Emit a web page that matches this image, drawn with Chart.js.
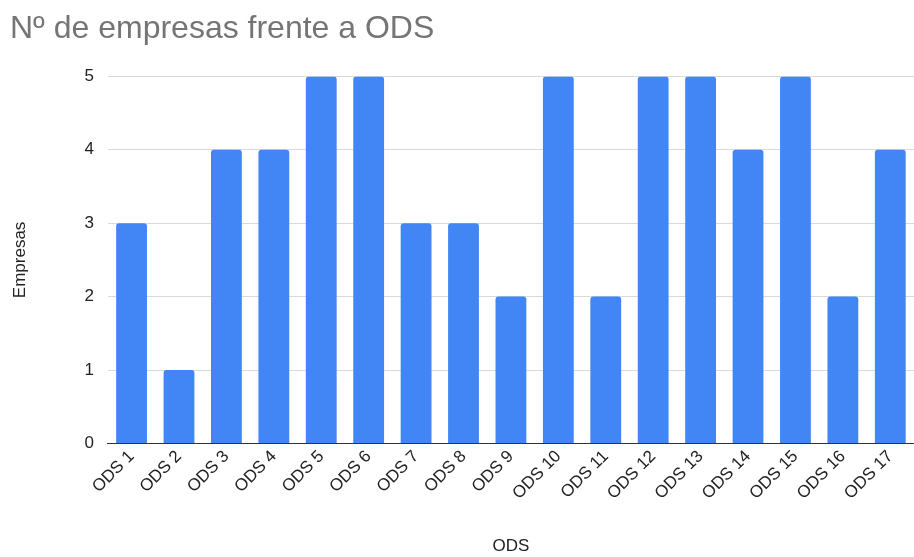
<!DOCTYPE html>
<html><head><meta charset="utf-8">
<script src="https://cdn.jsdelivr.net/npm/chart.js@4/dist/chart.umd.min.js"></script>
<style>html,body{margin:0;padding:0;background:#fff}#w{width:914px;height:557px}</style>
</head><body><div id="w"><canvas id="c"></canvas></div>
<script>
const categories = ["ODS 1","ODS 2","ODS 3","ODS 4","ODS 5","ODS 6","ODS 7","ODS 8","ODS 9","ODS 10","ODS 11","ODS 12","ODS 13","ODS 14","ODS 15","ODS 16","ODS 17"];
const empresas = [3,1,4,4,5,5,3,3,2,5,2,5,5,4,5,2,4];
const yTicks = [0,1,2,3,4,5];
const titleText = "Nº de empresas frente a ODS";
const xTitle = "ODS";
const yTitle = "Empresas";

Chart.defaults.font.family = "'Liberation Sans', Arial, sans-serif";
new Chart(document.getElementById('c'), {
  type: 'bar',
  data: { labels: categories, datasets: [{ data: empresas, backgroundColor: '#4285F4', borderRadius: {topLeft:3, topRight:3}, borderSkipped: 'bottom', categoryPercentage: 0.65, barPercentage: 1 }] },
  options: {
    responsive: true, maintainAspectRatio: false, animation: false,
    layout: { padding: { left: 10, right: 0, top: 0, bottom: 0 } },
    plugins: {
      legend: { display: false },
      tooltip: { enabled: false },
      title: { display: true, text: titleText, align: 'start', color: '#757575', font: { size: 32, weight: 'normal' }, padding: { top: 10, bottom: 28 } }
    },
    scales: {
      x: {
        grid: { display: false, drawTicks: false },
        border: { color: '#333', width: 1 },
        ticks: { color: '#222', font: { size: 17 }, maxRotation: 45, minRotation: 45, padding: 3, autoSkip: false },
        title: { display: true, text: xTitle, color: '#222', font: { size: 17 }, padding: { top: 30, bottom: 0 } }
      },
      y: {
        min: 0, max: 5,
        afterBuildTicks: (s) => { s.ticks = yTicks.map(v => ({ value: v })); },
        grid: { color: '#d9d9d9', drawTicks: false },
        border: { display: false },
        ticks: { color: '#222', font: { size: 17 }, padding: 14 },
        title: { display: true, text: yTitle, color: '#222', font: { size: 17 }, padding: { top: 0, bottom: 40 } }
      }
    }
  }
});
</script></body></html>
